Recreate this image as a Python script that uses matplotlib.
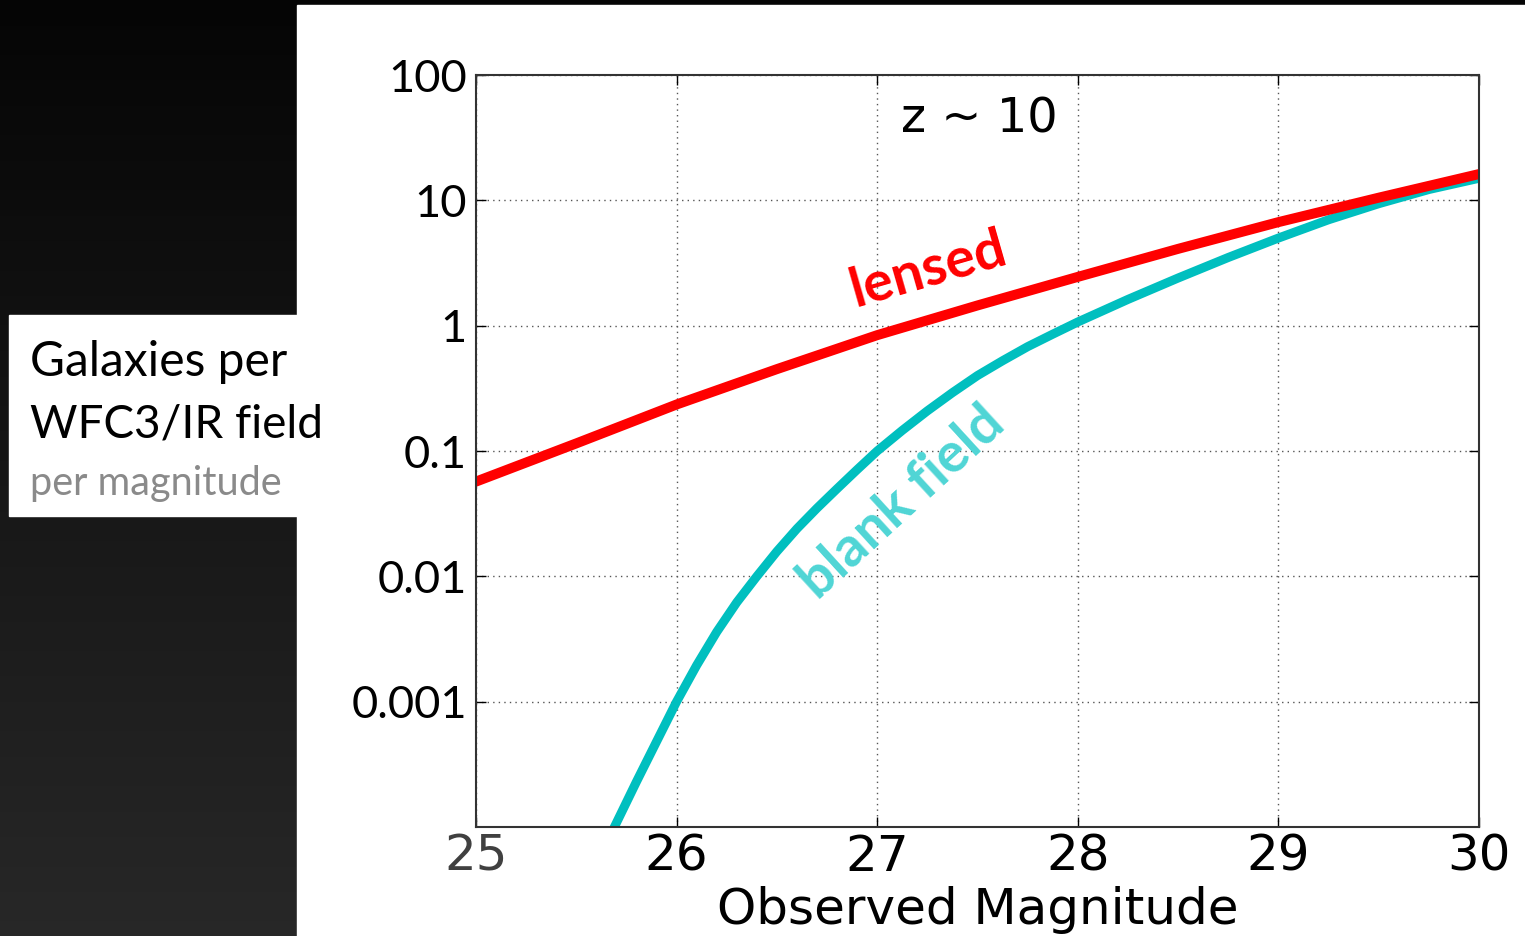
import numpy as np
import matplotlib
matplotlib.use("Agg")
import matplotlib.pyplot as plt
from matplotlib.patches import Rectangle
from matplotlib.ticker import FixedLocator, NullLocator

# number counts per WFC3/IR field per magnitude, z ~ 10
lensed_mag = [25.0, 25.5, 26.0, 26.5, 27.0, 27.5, 28.0, 28.5, 29.0, 29.5, 30.0]
lensed_n = [0.057, 0.115, 0.235, 0.45, 0.84, 1.45, 2.45, 4.1, 6.7, 10.5, 16.2]

blank_mag = [25.6, 25.69, 25.8, 25.9, 26.0, 26.1, 26.2, 26.3, 26.4, 26.5, 26.6,
             26.7, 26.8, 26.9, 27.0, 27.125, 27.25, 27.375, 27.5, 27.625, 27.75,
             27.875, 28.0, 28.25, 28.5, 28.75, 29.0, 29.25, 29.5, 29.75, 30.0]
blank_n = [5.1e-5, 1.0e-4, 2.3e-4, 4.8e-4, 1.0e-3, 1.95e-3, 3.6e-3, 6.2e-3,
           0.010, 0.0158, 0.024, 0.035, 0.050, 0.071, 0.100, 0.146, 0.209, 0.292,
           0.40, 0.525, 0.68, 0.855, 1.07, 1.62, 2.4, 3.5, 5.0, 7.0, 9.4, 12.2,
           15.0]

y_ticks = [1e-3, 1e-2, 1e-1, 1, 10, 100]
y_ticklabels = ["0.001", "0.01", "0.1", "1", "10", "100"]
x_ticks = [25, 26, 27, 28, 29, 30]

W, H = 1525, 936
fig = plt.figure(figsize=(W / 100, H / 100), dpi=100)

# dark slide background with a soft vertical gradient
bg = fig.add_axes([0, 0, 1, 1], zorder=-10)
grad = np.linspace(0.02, 0.155, 256).reshape(-1, 1)
bg.imshow(np.dstack([grad, grad, grad]), aspect="auto", extent=[0, 1, 0, 1],
          origin="upper")
bg.set_xlim(0, 1)
bg.set_ylim(0, 1)
bg.axis("off")

# white plot panel and the y-label box
bg.add_patch(Rectangle((297 / W, 0), 1 - 297 / W, 1 - 5 / H, color="white", zorder=2))
bg.add_patch(Rectangle((9 / W, 1 - 516 / H), (297 - 9) / W, (516 - 315) / H,
                       color="white", zorder=2))

calibri_like = ["Lato", "DejaVu Sans"]
fig.text(30 / W, 1 - 362 / H, "Galaxies per", family=calibri_like, fontsize=34.5,
         va="center", ha="left")
fig.text(30 / W, 1 - 425 / H, "WFC3/IR field", family=calibri_like, fontsize=33,
         va="center", ha="left")
fig.text(30 / W, 1 - 483 / H, "per magnitude", family=calibri_like, fontsize=28.5,
         va="center", ha="left", color="#8a8a8a")

ax = fig.add_axes([476 / W, 1 - 827 / H, (1479 - 476) / W, (827 - 75) / H])
ax.plot(blank_mag, blank_n, color="#00bfbf", lw=6.5, solid_joinstyle="round")
ax.plot(lensed_mag, lensed_n, color="#ff0000", lw=7.2, solid_joinstyle="round")

ax.set_yscale("log")
ax.set_xlim(25, 30)
ax.set_ylim(1e-4, 100)
ax.xaxis.set_major_locator(FixedLocator(x_ticks))
ax.yaxis.set_major_locator(FixedLocator(y_ticks))
ax.yaxis.set_minor_locator(NullLocator())
ax.set_yticklabels(y_ticklabels, family=calibri_like, fontsize=32.5)
ax.set_xticklabels([str(t) for t in x_ticks], fontsize=36)
ax.get_xticklabels()[0].set_color("#404040")
ax.tick_params(direction="in", length=7, width=1, top=True, right=True)
ax.tick_params(axis="x", pad=4)
ax.tick_params(axis="y", pad=6.5)
ax.grid(True, linestyle=(0, (1, 3)), color="#555555", linewidth=1)
for s in ax.spines.values():
    s.set_linewidth(1.5)
    s.set_color("#333333")

ax.set_xlabel("Observed Magnitude", fontsize=36, labelpad=4)

ax.text(27.51, 44.6, "z ~ 10", fontsize=34.5, ha="center", va="center")
ax.text(27.253, 2.83, "lensed", family=calibri_like, fontweight="bold",
        fontsize=40, color="#ff0000", rotation=16, ha="center", va="center",
        rotation_mode="anchor")
ax.text(27.124, 0.039, "blank field", family=calibri_like, fontweight="bold",
        fontsize=40, color="#4fd5d5", rotation=42.5, ha="center", va="center",
        rotation_mode="anchor")

fig.savefig("out.png", dpi=100)
